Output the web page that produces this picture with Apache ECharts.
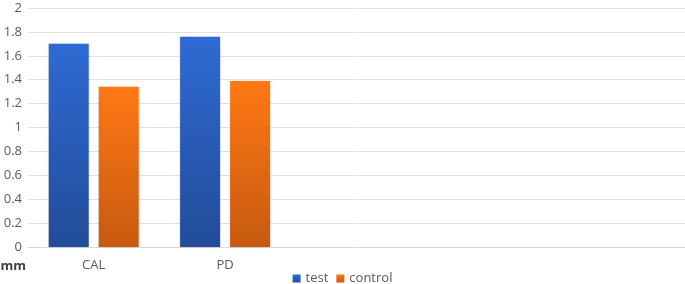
<!DOCTYPE html>
<html>
<head>
<meta charset="utf-8">
<script src="https://cdn.jsdelivr.net/npm/echarts@6/dist/echarts.min.js"></script>
<style>
  html, body { margin: 0; padding: 0; background: #fff; }
  #chart { width: 685px; height: 284px; }
</style>
</head>
<body>
<div id="chart"></div>
<script>
  // categories (the last three slots are empty in the original)
  var categories = ['CAL', 'PD', '', '', ''];
  var testValues = [1.70, 1.76];
  var controlValues = [1.34, 1.39];
  var yTicks = { min: 0, max: 2, interval: 0.2 };

  var myChart = echarts.init(document.getElementById('chart'));

  function grad(top, bottom) {
    return new echarts.graphic.LinearGradient(0, 0, 0, 1, [
      { offset: 0, color: top },
      { offset: 1, color: bottom }
    ]);
  }

  var font = 'Open Sans, Liberation Sans, sans-serif';

  myChart.setOption({
    animation: false,
    backgroundColor: '#fff',
    grid: { left: 28, right: 0, top: 8, bottom: 37, outerBoundsMode: 'none' },
    legend: {
      top: 267,
      left: 'center',
      itemWidth: 8,
      itemHeight: 8,
      itemGap: 8,
      icon: 'rect',
      textStyle: { color: '#595959', fontSize: 13, fontFamily: font },
      data: ['test', 'control']
    },
    xAxis: {
      type: 'category',
      data: categories,
      axisLine: { lineStyle: { color: '#d9d9d9' } },
      axisTick: { show: false },
      axisLabel: { color: '#595959', fontSize: 13, fontFamily: font, margin: 12 }
    },
    yAxis: {
      type: 'value',
      min: yTicks.min,
      max: yTicks.max,
      interval: yTicks.interval,
      name: 'mm',
      nameLocation: 'start',
      nameGap: 13,
      nameTextStyle: { color: '#404040', fontSize: 13, fontWeight: 'bold', fontFamily: font, align: 'right', padding: [0, 2, 0, 0] },
      axisLine: { show: false },
      axisTick: { show: false },
      splitLine: { lineStyle: { color: '#dde1e6' } },
      axisLabel: { color: '#595959', fontSize: 13, fontFamily: font, margin: 6 }
    },
    series: [{
      name: 'test',
      type: 'bar',
      barWidth: 40,
      barGap: '25%',
      data: testValues,
      itemStyle: {
        color: grad('#2f6ad4', '#224c98'),
        shadowColor: 'rgba(0,0,0,0.18)',
        shadowBlur: 2
      }
    }, {
      name: 'control',
      type: 'bar',
      barWidth: 40,
      barGap: '25%',
      data: controlValues,
      itemStyle: {
        color: grad('#ff7814', '#c65a10'),
        shadowColor: 'rgba(0,0,0,0.18)',
        shadowBlur: 2
      }
    }]
  });
</script>
</body>
</html>
